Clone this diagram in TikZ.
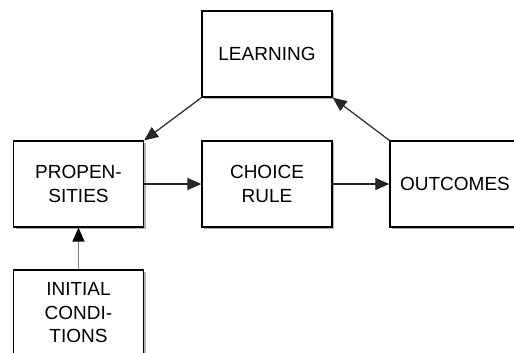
\documentclass[tikz,border=0pt]{standalone}
\usepackage{fontspec}
\setmainfont{Liberation Sans}
\usetikzlibrary{arrows.meta,shadows}
\begin{document}
\begin{tikzpicture}[x=1pt,y=-1pt,
  box/.style={draw=black, line width=1.3pt, fill=white, minimum width=130pt, minimum height=86pt,
    inner sep=0pt, align=center, font=\fontsize{19}{23.5}\selectfont,
    drop shadow={shadow xshift=2pt, shadow yshift=-2pt, opacity=0.3, fill=black}},
  conn/.style={line width=1.2pt, draw=black!85, -{Triangle[length=14pt,width=12pt]}},
  grayconn/.style={line width=1.6pt, draw=black!50, -{Triangle[length=14pt,width=12pt,color=black]}}]
\useasboundingbox (0,0) rectangle (514,353);
\clip (0,0) rectangle (514,353);
\node[box] (learning) at (267,54) {LEARNING};
\node[box] (prop) at (78.5,184) {PROPEN-\\SITIES};
\node[box] (choice) at (267,184) {CHOICE\\RULE};
\node[box] (outcomes) at (455,184) {OUTCOMES};
\node[box] (initial) at (78.5,313) {INITIAL\\CONDI-\\TIONS};
\draw[conn] (learning.south west) -- (prop.north east);
\draw[conn] (outcomes.north west) -- (learning.south east);
\draw[conn] (prop.east) -- (choice.west);
\draw[conn] (choice.east) -- (outcomes.west);
\draw[grayconn] (initial.north) -- (prop.south);
\end{tikzpicture}
\end{document}
